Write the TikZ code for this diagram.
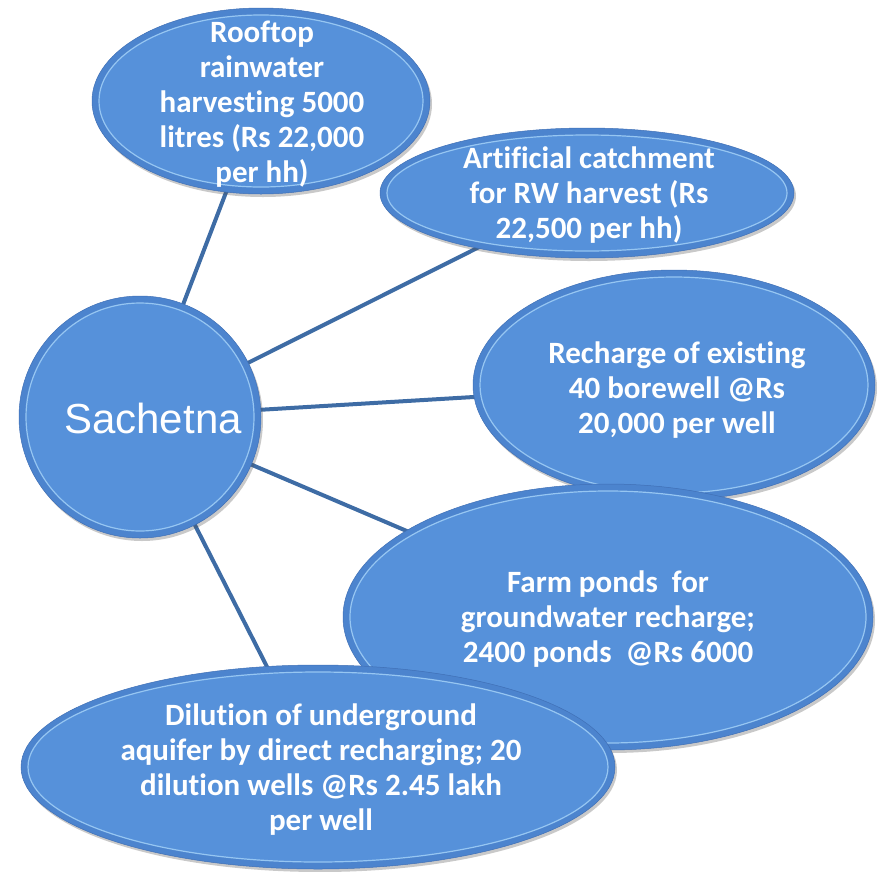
\documentclass[tikz,border=0pt]{standalone}
\usepackage{fontspec}
\setmainfont[Ligatures=NoCommon]{Carlito}
\newfontfamily\sachfont{Liberation Sans}
\usetikzlibrary{shapes.geometric,shadows,backgrounds}

\definecolor{bubblefill}{RGB}{86,145,218}
\definecolor{bubblerim}{RGB}{76,132,206}
\definecolor{bubbleedge}{RGB}{64,112,182}
\definecolor{bubblehi}{RGB}{150,198,242}
\definecolor{linkc}{RGB}{62,108,165}

\tikzset{
  bubble/.style={ellipse, inner sep=0pt, fill=bubblerim, draw=bubbleedge, line width=0.5pt,
    drop shadow={shadow xshift=2pt, shadow yshift=-3pt, opacity=0.3, fill=black!70}},
  bevel/.style={draw=bubblehi, line width=1.2pt, fill=bubblefill},
  lbl/.style={text=white, font=\bfseries\fontsize{31}{35}\selectfont, align=center, inner sep=0pt},
  link/.style={draw=linkc, line width=4pt}
}

% name, cx, cy, rx, ry
\newcommand\mybub[5]{%
  \node[bubble, minimum width={2*#4pt}, minimum height={2*#5pt}] (#1) at (#2,#3) {};
  \path[bevel] (#1.center) ellipse [x radius={#4pt-7pt}, y radius={#5pt-7pt}];
}

\begin{document}
\begin{tikzpicture}[x=1pt,y=-1pt]
  \useasboundingbox (0,0) rectangle (879,871);

  \mybub{roof}{261}{101}{169}{93}
  \mybub{catch}{587}{193}{207}{65}
  \mybub{bore}{674}{385}{201}{115}
  \mybub{farm}{608}{617}{265}{133}
  \mybub{dil}{318}{767}{297}{102}
  \mybub{sach}{140}{417}{121}{121}

  \node[lbl] (troof) at (262,104) {Rooftop\\rainwater\\harvesting 5000\\litres (Rs 22,000\\per hh)};
  \node[lbl] (tcatch) at (589,195) {Artificial catchment\\for RW harvest (Rs\\22,500 per hh)};
  \node[lbl] (tbore) at (677,390) {Recharge of existing\\40 borewell @Rs\\20,000 per well};
  \node[lbl] (tfarm) at (608,619) {Farm ponds\ \ for\\groundwater recharge;\\2400 ponds\ \ @Rs 6000};
  \node[lbl] (tdil) at (321,770) {Dilution of underground\\aquifer by direct recharging; 20\\dilution wells @Rs 2.45 lakh\\per well};
  \node[text=white, font=\sachfont\fontsize{42}{48}\selectfont, inner sep=0pt, anchor=base] (tsach) at (153,433) {Sachetna};

  \begin{scope}[on background layer]
    \draw[link] (sach.center) -- (roof.center);
    \draw[link] (sach.center) -- (catch.center);
    \draw[link] (sach.center) -- (bore.center);
    \draw[link] (sach.center) -- (farm.center);
    \draw[link] (sach.center) -- (dil.center);
  \end{scope}
\end{tikzpicture}
\end{document}
